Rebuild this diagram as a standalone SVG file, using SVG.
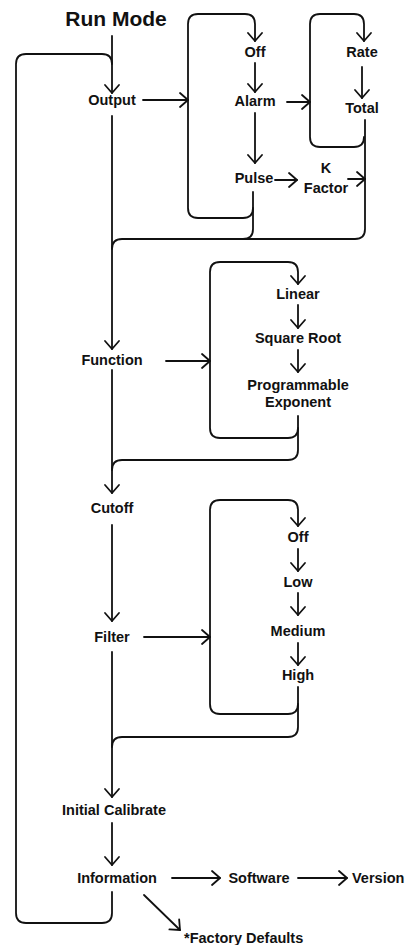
<svg xmlns="http://www.w3.org/2000/svg" width="409" height="945" viewBox="0 0 409 945">
<style>
text{font-family:"Liberation Sans",Arial,sans-serif;font-weight:bold;font-size:14.5px;fill:#111;text-anchor:middle}
.title{font-size:21px}
.c{fill:none;stroke:#111;stroke-width:1.8;stroke-linecap:round;stroke-linejoin:round}
.a{marker-end:url(#ah)}
</style>
<defs>
<marker id="ah" markerUnits="userSpaceOnUse" markerWidth="14" markerHeight="16" refX="8" refY="7" orient="auto" overflow="visible">
<path d="M0,0 L8,7 L0,14" fill="none" stroke="#111" stroke-width="1.8" stroke-linecap="round" stroke-linejoin="round"/>
</marker>
</defs>
<rect width="409" height="945" fill="#fff"/>
<g id="connectors">
<path class="c a" d="M112,36 L112,93"/>
<path class="c" d="M112,892 L112,913 Q112,923 102,923 L26,923 Q16,923 16,913 L16,64 Q16,54 26,54 L102,54 Q112,54 112,64"/>
<path class="c a" d="M143,100 L188,100"/>
<path class="c a" d="M253,208 Q253,218 243,218 L198,218 Q188,218 188,208 L188,24 Q188,14 198,14 L245,14 Q255,14 255,24 L255,41"/>
<path class="c a" d="M255,63 L255,92"/>
<path class="c a" d="M287,102 L310,102"/>
<path class="c a" d="M364,137 Q364,147 354,147 L320,147 Q310,147 310,137 L310,24 Q310,14 320,14 L354,14 Q364,14 364,24 L364,41"/>
<path class="c a" d="M362,67 L362,98"/>
<path class="c a" d="M255,113 L255,163"/>
<path class="c a" d="M275,180 L297,180"/>
<path class="c a" d="M348,179 L365,179"/>
<path class="c" d="M365,120 L365,229 Q365,239 355,239 L122,239 Q112,239 112,249"/>
<path class="c" d="M253,192 L253,229 Q253,239 243,239"/>
<path class="c a" d="M112,116 L112,349"/>
<path class="c a" d="M166,361 L210,361"/>
<path class="c a" d="M298,428 Q298,438 288,438 L220,438 Q210,438 210,428 L210,272 Q210,262 220,262 L288,262 Q298,262 298,272 L298,284"/>
<path class="c a" d="M298,305 L298,328"/>
<path class="c a" d="M298,350 L298,372"/>
<path class="c" d="M298,416 L298,450 Q298,460 288,460 L122,460 Q112,460 112,470"/>
<path class="c a" d="M112,370 L112,493"/>
<path class="c a" d="M112,525 L112,621"/>
<path class="c a" d="M144,637 L210,637"/>
<path class="c a" d="M298,704 Q298,714 288,714 L220,714 Q210,714 210,704 L210,510 Q210,500 220,500 L288,500 Q298,500 298,510 L298,526"/>
<path class="c a" d="M298,549 L298,571"/>
<path class="c a" d="M298,593 L298,615"/>
<path class="c a" d="M298,643 L298,665"/>
<path class="c" d="M298,687 L298,727 Q298,737 288,737 L122,737 Q112,737 112,747"/>
<path class="c a" d="M112,652 L112,797"/>
<path class="c a" d="M112,823 L112,865"/>
<path class="c a" d="M172,878 L220,878"/>
<path class="c a" d="M298,878 L347,878"/>
<path class="c a" d="M144,895 L180,930"/>
</g>
<g id="run-mode"><text class="title" x="116" y="26">Run Mode</text></g>
<g id="output"><text x="112" y="105">Output</text></g>
<g id="output-off"><text x="255" y="57">Off</text></g>
<g id="alarm"><text x="255" y="106">Alarm</text></g>
<g id="rate"><text x="362" y="57">Rate</text></g>
<g id="total"><text x="362" y="113">Total</text></g>
<g id="pulse"><text x="254" y="183">Pulse</text></g>
<g id="k-factor"><text x="326" y="173">K</text><text x="326" y="193">Factor</text></g>
<g id="function"><text x="112" y="365">Function</text></g>
<g id="linear"><text x="298" y="299">Linear</text></g>
<g id="square-root"><text x="298" y="343">Square Root</text></g>
<g id="programmable-exponent"><text x="298" y="390">Programmable</text><text x="298" y="407">Exponent</text></g>
<g id="cutoff"><text x="112" y="513">Cutoff</text></g>
<g id="filter"><text x="112" y="642">Filter</text></g>
<g id="filter-off"><text x="298" y="542">Off</text></g>
<g id="low"><text x="298" y="587">Low</text></g>
<g id="medium"><text x="298" y="636">Medium</text></g>
<g id="high"><text x="298" y="680">High</text></g>
<g id="initial-calibrate"><text x="114" y="815">Initial Calibrate</text></g>
<g id="information"><text x="117" y="883">Information</text></g>
<g id="software"><text x="259" y="883">Software</text></g>
<g id="version"><text x="352" y="883" style="text-anchor:start">Version</text></g>
<g id="factory-defaults"><text x="184" y="943" style="text-anchor:start">*Factory Defaults</text></g>
</svg>
